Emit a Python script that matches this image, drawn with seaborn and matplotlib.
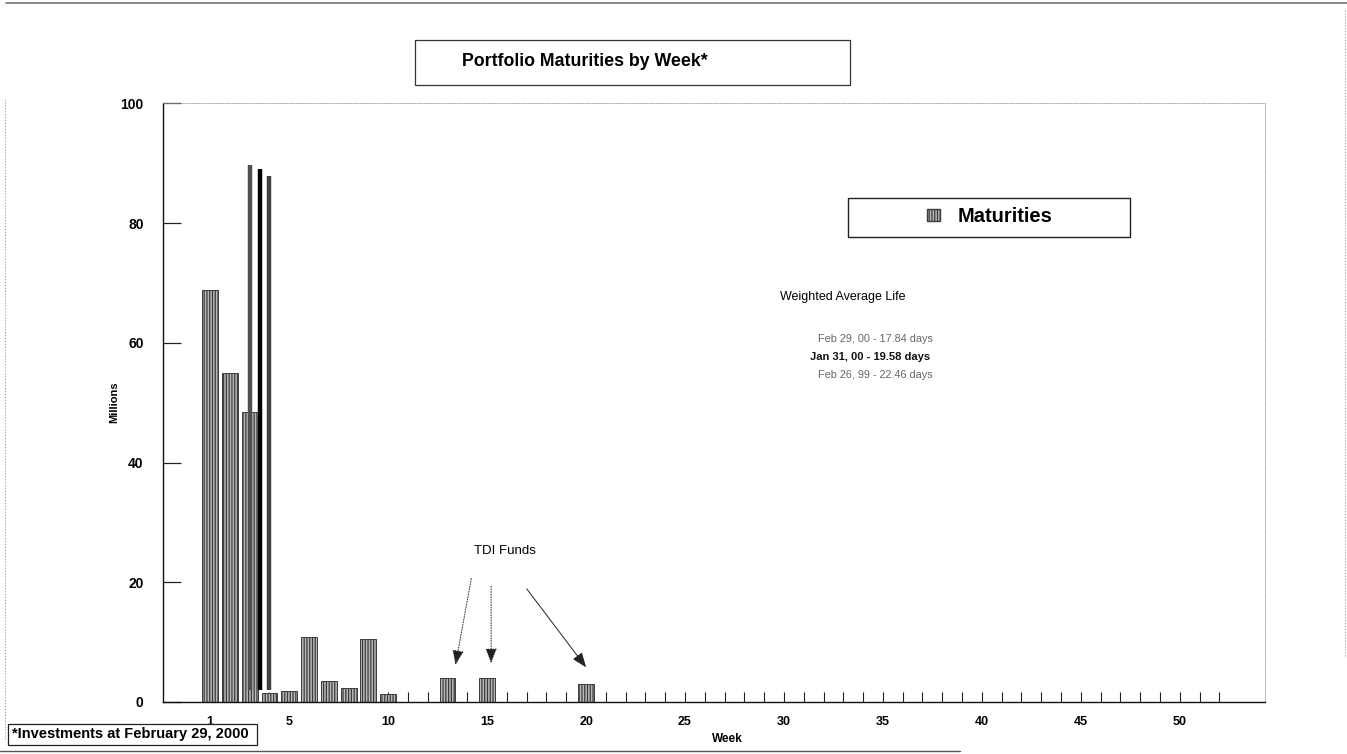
import matplotlib
matplotlib.use("Agg")
import matplotlib.pyplot as plt
from matplotlib.patches import Rectangle, Patch
from matplotlib.lines import Line2D
import seaborn as sns
import pandas as pd

# --- data ---
weeks = [1, 2, 3, 4, 5, 6, 7, 8, 9, 10, 13, 15, 20]
maturities = [68.8, 55.0, 48.4, 1.5, 1.8, 10.8, 3.5, 2.3, 10.6, 1.4, 4.0, 4.0, 3.0]

tick_weeks = list(range(1, 53))
label_weeks = [1, 5, 10, 15, 20, 25, 30, 35, 40, 45, 50]

# the three heavy marker lines drawn over weeks 3-4
mark_x = [3.0, 3.5, 4.0]
mark_top = [89.7, 89.0, 87.8]
mark_color = ["#505050", "#000000", "#404040"]

wal_lines = ["Feb 29, 00 - 17.84 days", "Jan 31, 00 - 19.58 days", "Feb 26, 99 - 22.46 days"]

df = pd.DataFrame({"week": weeks, "millions": maturities})

sns.set_style("white")
plt.rcParams["font.family"] = ["Liberation Sans", "DejaVu Sans"]
plt.rcParams["hatch.linewidth"] = 0.9
plt.rcParams["text.color"] = "black"
plt.rcParams["axes.labelcolor"] = "black"
plt.rcParams["xtick.color"] = "black"
plt.rcParams["ytick.color"] = "black"

bar_face = "#b8b8b8"
bar_edge = "#3c3c3c"
bar_hatch = "||||||"

fig = plt.figure(figsize=(13.47, 7.54), dpi=100)
ax = fig.add_axes([0.121, 0.069, 0.818, 0.794])

sns.barplot(data=df, x="week", y="millions", native_scale=True, ax=ax,
            color=bar_face, edgecolor=bar_edge, linewidth=0.7,
            hatch=bar_hatch, width=0.8, errorbar=None)

ax.vlines(mark_x, 2.0, mark_top, colors=mark_color, linewidth=3.2)

ax.set_xlim(-1.38, 54.3)
ax.set_ylim(0, 100)
ax.set_xticks(tick_weeks)
ax.set_xticklabels([str(w) if w in label_weeks else "" for w in tick_weeks],
                   fontsize=9, fontweight="bold")
ax.set_yticks([0, 20, 40, 60, 80, 100])
ax.set_yticklabels(["0", "20", "40", "60", "80", "100"], fontsize=10, fontweight="bold")
ax.tick_params(axis="x", bottom=True, direction="in", length=7, width=0.8, pad=10, color="#222")
ax.tick_params(axis="y", left=True, direction="in", length=13, width=0.9, pad=14, color="#222")

ax.set_xlabel("Week", fontsize=8.5, fontweight="bold")
ax.xaxis.set_label_coords(0.512, -0.052)
ax.set_ylabel("Millions", fontsize=8, fontweight="bold")
ax.yaxis.set_label_coords(-0.04, 0.5)

for s in ["left", "bottom"]:
    ax.spines[s].set_color("#111")
    ax.spines[s].set_linewidth(1.0)
for s in ["top", "right"]:
    ax.spines[s].set_color("#999")
    ax.spines[s].set_linewidth(0.6)
    ax.spines[s].set_linestyle(":")

# legend
fig.add_artist(Rectangle((848 / 1347, 1 - 237 / 754), 282 / 1347, 39 / 754,
                         transform=fig.transFigure, fill=False, edgecolor="#222", linewidth=1.0))
handle = Patch(facecolor=bar_face, edgecolor=bar_edge, hatch=bar_hatch, label="Maturities")
fig.legend(handles=[handle], loc="center", bbox_to_anchor=(990 / 1347, 1 - 217 / 754),
           frameon=False, prop={"weight": "bold", "size": 14.5}, handlelength=0.6,
           handleheight=0.55, handletextpad=0.9)

# title box
fig.add_artist(Rectangle((415 / 1347, 1 - 85 / 754), 435 / 1347, 45 / 754,
                         transform=fig.transFigure, fill=False, edgecolor="#333", linewidth=0.9))
fig.text(585 / 1347, 1 - 61 / 754, "Portfolio Maturities by Week*", ha="center", va="center",
         fontsize=12.8, fontweight="bold")

# weighted average life notes
fig.text(780 / 1347, 1 - 297 / 754, "Weighted Average Life", fontsize=9, va="center")
fig.text(818 / 1347, 1 - 339 / 754, wal_lines[0], fontsize=7.8, va="center", color="#666")
fig.text(810 / 1347, 1 - 357 / 754, wal_lines[1], fontsize=8, va="center", color="#111",
         fontweight="bold")
fig.text(818 / 1347, 1 - 375 / 754, wal_lines[2], fontsize=7.8, va="center", color="#666")

# TDI funds arrows
ax.text(15.9, 25.2, "TDI Funds", fontsize=9.5, ha="center", va="center")
arrows = [((14.2, 20.6), (13.4, 6.2), ":"), ((15.2, 19.3), (15.2, 6.5), ":"),
          ((17.0, 18.9), (20.0, 5.8), "-")]
for start, end, ls in arrows:
    ax.annotate("", xy=end, xytext=start,
                arrowprops=dict(arrowstyle="-|>,head_length=0.9,head_width=0.35",
                                color="#222", lw=0.7, linestyle=ls, shrinkA=0, shrinkB=0))

# footnote box
fig.add_artist(Rectangle((8 / 1347, 1 - 745 / 754), 249 / 1347, 21 / 754,
                         transform=fig.transFigure, fill=False, edgecolor="#222", linewidth=0.9))
fig.text(12 / 1347, 1 - 734 / 754, "*Investments at February 29, 2000", fontsize=10.5,
         fontweight="bold", va="center")

# page border
fig.add_artist(Line2D([6 / 1347, 1], [1 - 3 / 754, 1 - 3 / 754], transform=fig.transFigure,
                      color="#777", linewidth=1.2))
fig.add_artist(Line2D([0, 960 / 1347], [1 - 751 / 754, 1 - 751 / 754], transform=fig.transFigure,
                      color="#555", linewidth=1.0))
fig.add_artist(Line2D([5 / 1347, 5 / 1347], [0.02, 0.87], transform=fig.transFigure,
                      color="#999", linewidth=0.8, linestyle=":"))
fig.add_artist(Line2D([1345 / 1347, 1345 / 1347], [0.13, 0.99], transform=fig.transFigure,
                      color="#999", linewidth=0.8, linestyle=":"))

fig.savefig("out.png", dpi=100)
